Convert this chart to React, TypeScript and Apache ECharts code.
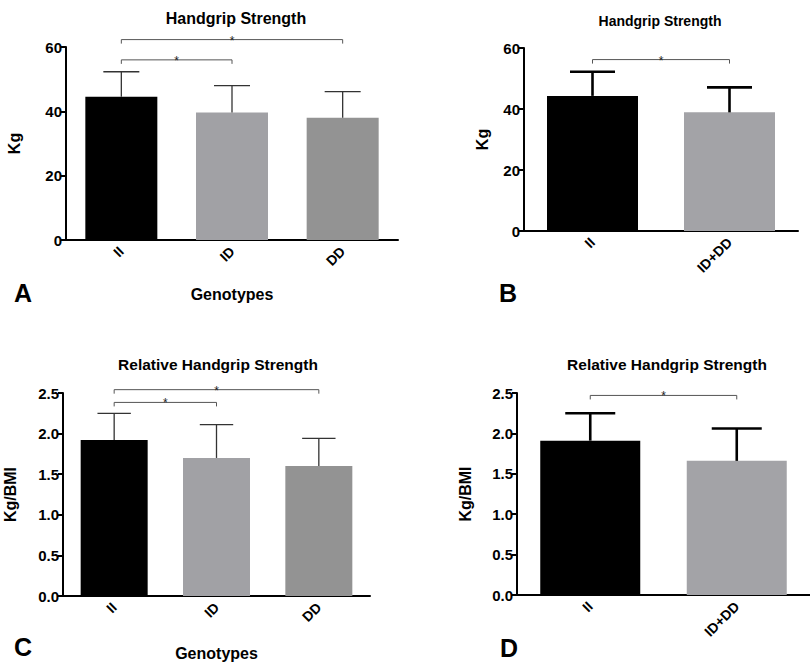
import React, { useEffect, useRef } from "react";
import * as echarts from "echarts";

// ---- data ----
const genotypes3 = ["II", "ID", "DD"];
const genotypes2 = ["II", "ID+DD"];

const hgMean3 = [44.5, 39.6, 38.0];
const hgSD3 = [7.8, 8.4, 8.1];
const hgMean2 = [44.3, 38.9];
const hgSD2 = [7.9, 8.2];

const relMean3 = [1.92, 1.7, 1.6];
const relSD3 = [0.33, 0.41, 0.34];
const relMean2 = [1.91, 1.66];
const relSD2 = [0.34, 0.4];

const colors3 = ["#000000", "#a1a1a5", "#939393"];
const colors2 = ["#000000", "#a3a3a7"];

// brackets: [fromIndex, toIndex, yValue]
const bracketsA = [[0, 1, 56.0], [0, 2, 62.3]];
const bracketsB = [[0, 1, 56.2]];
const bracketsC = [[0, 1, 2.384], [0, 2, 2.541]];
const bracketsD = [[0, 1, 2.47]];

const FONT = "'Liberation Sans', Arial, Helvetica, sans-serif";

export default function App() {
  const ref = useRef<HTMLDivElement>(null);

  useEffect(() => {
    if (!ref.current) return;
    const chart = echarts.init(ref.current, null, { renderer: "svg" });

    const grids = [
      { left: 66, top: 47, width: 332, height: 193 },
      { left: 524, top: 48, width: 274, height: 183 },
      { left: 63, top: 393, width: 307, height: 203 },
      { left: 517, top: 393, width: 298, height: 202 },
    ];

    const axisLine = { lineStyle: { color: "#000", width: 2 } };
    const axisTick = { length: 5, lineStyle: { color: "#000", width: 2 } };

    const mkX = (gi: number, cats: string[], name: string, nameGap: number) => ({
      type: "category",
      gridIndex: gi,
      data: cats,
      axisLine,
      axisTick: { ...axisTick, alignWithLabel: true },
      axisLabel: {
        rotate: 45,
        margin: 9,
        color: "#000",
        fontFamily: FONT,
        fontWeight: "bold",
        fontSize: 14,
      },
      name,
      nameLocation: "middle",
      nameGap,
      nameTextStyle: { color: "#000", fontFamily: FONT, fontWeight: "bold", fontSize: 16 },
    });

    const mkY = (gi: number, max: number, interval: number, name: string, nameGap: number, dec: number) => ({
      type: "value",
      gridIndex: gi,
      min: 0,
      max,
      interval,
      splitLine: { show: false },
      axisLine: { show: true, ...axisLine },
      axisTick: { show: true, ...axisTick },
      axisLabel: {
        margin: 4,
        color: "#000",
        fontFamily: FONT,
        fontWeight: "bold",
        fontSize: 15,
        formatter: (v: number) => v.toFixed(dec),
      },
      name,
      nameLocation: "middle",
      nameRotate: 90,
      nameGap,
      nameTextStyle: { color: "#000", fontFamily: FONT, fontWeight: "bold", fontSize: 16 },
    });

    const barSeries = (gi: number, means: number[], cols: string[], bw: number) => ({
      type: "bar",
      xAxisIndex: gi,
      yAxisIndex: gi,
      barWidth: bw,
      data: means.map((v, i) => ({ value: v, itemStyle: { color: cols[i] } })),
      z: 2,
    });

    const errSeries = (gi: number, means: number[], sds: number[], hw: number, lw: number, color: string) => ({
      type: "custom",
      xAxisIndex: gi,
      yAxisIndex: gi,
      z: 3,
      encode: { x: 0, y: 1 },
      data: means.map((m, i) => [i, m + sds[i], m]),
      renderItem: (_p: any, api: any) => {
        const x = api.value(0);
        const top = api.coord([x, api.value(1)]);
        const base = api.coord([x, api.value(2)]);
        const style = { stroke: color, lineWidth: lw, fill: "none" };
        return {
          type: "group",
          children: [
            { type: "line", shape: { x1: base[0], y1: base[1], x2: top[0], y2: top[1] }, style },
            { type: "line", shape: { x1: top[0] - hw, y1: top[1], x2: top[0] + hw, y2: top[1] }, style },
          ],
        };
      },
    });

    const bracketSeries = (gi: number, br: number[][]) => ({
      type: "custom",
      xAxisIndex: gi,
      yAxisIndex: gi,
      z: 4,
      clip: false,
      encode: { x: [0, 1], y: 2 },
      data: br,
      renderItem: (_p: any, api: any) => {
        const y = api.value(2);
        const p1 = api.coord([api.value(0), y]);
        const p2 = api.coord([api.value(1), y]);
        return {
          type: "group",
          children: [
            {
              type: "polyline",
              shape: {
                points: [
                  [p1[0], p1[1] + 4],
                  [p1[0], p1[1]],
                  [p2[0], p2[1]],
                  [p2[0], p2[1] + 4],
                ],
              },
              style: { stroke: "#555", lineWidth: 1, fill: "none" },
            },
            {
              type: "text",
              x: (p1[0] + p2[0]) / 2,
              y: p1[1] + 1,
              style: {
                text: "*",
                fontSize: 12,
                fontFamily: FONT,
                fill: "#222",
                align: "center",
                verticalAlign: "middle",
              },
            },
          ],
        };
      },
    });

    const txt = (x: number, y: number, text: string, size: number) => ({
      type: "text",
      x,
      y,
      style: {
        text,
        fontSize: size,
        fontWeight: "bold",
        fontFamily: FONT,
        fill: "#000",
        align: "center",
        verticalAlign: "middle",
      },
    });

    chart.setOption({
      animation: false,
      backgroundColor: "#fff",
      grid: grids,
      xAxis: [
        mkX(0, genotypes3, "Genotypes", 46),
        mkX(1, genotypes2, "", 30),
        mkX(2, genotypes3, "Genotypes", 49),
        mkX(3, genotypes2, "", 30),
      ],
      yAxis: [
        mkY(0, 60, 20, "Kg", 44, 0),
        mkY(1, 60, 20, "Kg", 34, 0),
        mkY(2, 2.5, 0.5, "Kg/BMI", 45, 1),
        mkY(3, 2.5, 0.5, "Kg/BMI", 44, 1),
      ],
      series: [
        barSeries(0, hgMean3, colors3, 72),
        errSeries(0, hgMean3, hgSD3, 18, 1.3, "#333"),
        bracketSeries(0, bracketsA),
        barSeries(1, hgMean2, colors2, 91),
        errSeries(1, hgMean2, hgSD2, 22.5, 2.6, "#000"),
        bracketSeries(1, bracketsB),
        barSeries(2, relMean3, colors3, 67),
        errSeries(2, relMean3, relSD3, 16.7, 1.3, "#333"),
        bracketSeries(2, bracketsC),
        barSeries(3, relMean2, colors2, 100),
        errSeries(3, relMean2, relSD2, 25, 2.6, "#000"),
        bracketSeries(3, bracketsD),
      ],
      graphic: [
        txt(236, 18, "Handgrip Strength", 16),
        txt(660, 21, "Handgrip Strength", 14),
        txt(218, 364, "Relative Handgrip Strength", 15.5),
        txt(667, 364, "Relative Handgrip Strength", 15.5),
        txt(23, 293, "A", 25),
        txt(508, 293, "B", 25),
        txt(23, 647, "C", 25),
        txt(509, 648, "D", 25),
      ],
    });

    return () => chart.dispose();
  }, []);

  return (
    <div
      ref={ref}
      style={{ position: "fixed", left: 0, top: 0, width: 810, height: 662, background: "#fff" }}
    />
  );
}
